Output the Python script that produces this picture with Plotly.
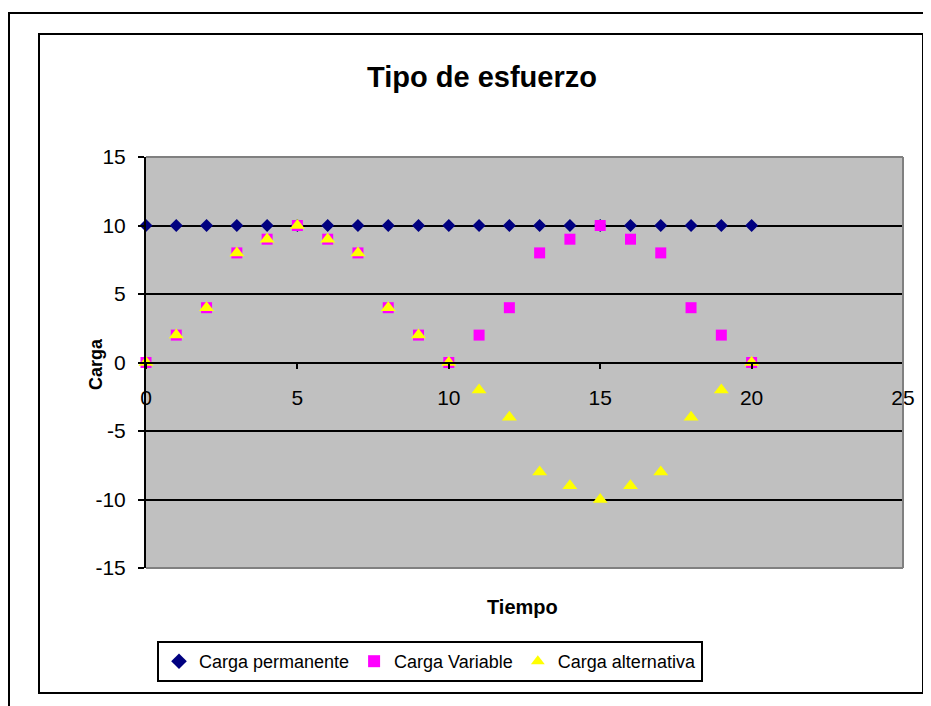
import plotly.graph_objects as go

# ---- data ----
tiempo = list(range(0, 21))
carga_permanente = [10] * 21
carga_variable = [0, 2, 4, 8, 9, 10, 9, 8, 4, 2, 0, 2, 4, 8, 9, 10, 9, 8, 4, 2, 0]
carga_alternativa = [0, 2, 4, 8, 9, 10, 9, 8, 4, 2, 0, -2, -4, -8, -9, -10, -9, -8, -4, -2, 0]
x_ticks = [0, 5, 10, 15, 20, 25]
y_ticks = [-15, -10, -5, 0, 5, 10, 15]

# ---- layout geometry (page pixels; the page body adds an 8px margin) ----
OFF = 8
W, H = 931 - OFF, 706 - OFF
PLOT_L, PLOT_R, PLOT_T, PLOT_B = 146, 903, 157, 568
L, T = PLOT_L - OFF, PLOT_T - OFF
R, B = W - (PLOT_R - OFF), H - (PLOT_B - OFF)


def px(x):
    return (x - PLOT_L) / (PLOT_R - PLOT_L)


def py(y):
    return (PLOT_B - y) / (PLOT_B - PLOT_T)


FONT = "Arial, Liberation Sans, sans-serif"

fig = go.Figure()
fig.add_trace(go.Scatter(x=tiempo, y=carga_permanente, mode="markers", name="Carga permanente",
                         cliponaxis=False,
                         marker=dict(symbol="diamond", size=10, color="#000080", line=dict(width=0))))
fig.add_trace(go.Scatter(x=tiempo, y=carga_variable, mode="markers", name="Carga Variable",
                         cliponaxis=False,
                         marker=dict(symbol="square", size=11, color="#FF00FF", line=dict(width=0))))
fig.add_trace(go.Scatter(x=tiempo, y=carga_alternativa, mode="markers", name="Carga alternativa",
                         cliponaxis=False,
                         marker=dict(symbol="triangle-up", size=13, color="#FFFF00", line=dict(width=0))))

shapes = [
    # outer frame
    dict(type="rect", xref="paper", yref="paper", x0=px(9), x1=px(945), y0=py(720), y1=py(13),
         line=dict(color="black", width=2), layer="above"),
    # chart area frame
    dict(type="rect", xref="paper", yref="paper", x0=px(39), x1=px(923), y0=py(693), y1=py(34),
         line=dict(color="black", width=2), layer="above"),
    # plot area grey border (top, right, bottom)
    dict(type="line", xref="paper", yref="paper", x0=0, x1=1, y0=1, y1=1,
         line=dict(color="#808080", width=2), layer="above"),
    dict(type="line", xref="paper", yref="paper", x0=1, x1=1, y0=0, y1=1,
         line=dict(color="#808080", width=2), layer="above"),
    dict(type="line", xref="paper", yref="paper", x0=0, x1=1, y0=0, y1=0,
         line=dict(color="#808080", width=2), layer="above"),
]

fig.update_layout(
    width=W, height=H,
    margin=dict(l=L, r=R, t=T, b=B, pad=0),
    paper_bgcolor="white",
    plot_bgcolor="#C0C0C0",
    font=dict(family=FONT, color="black", size=19),
    title=dict(text="<b>Tipo de esfuerzo</b>", font=dict(family=FONT, size=29, color="black"),
               xref="paper", x=px(482), xanchor="center",
               yref="container", y=1 - (77 - OFF) / H, yanchor="middle"),
    xaxis=dict(range=[0, 25], tickvals=x_ticks, ticktext=[str(v) for v in x_ticks],
               anchor="free", position=0.5, showgrid=False, zeroline=False,
               showline=True, linecolor="black", linewidth=2,
               ticks="outside", ticklen=5, tickwidth=2, tickcolor="black",
               ticklabelstandoff=11, tickfont=dict(size=21)),
    yaxis=dict(range=[-15, 15], tickvals=y_ticks, ticktext=[str(v) for v in y_ticks],
               showgrid=True, gridcolor="black", gridwidth=2, zeroline=False,
               showline=True, linecolor="black", linewidth=2,
               ticks="outside", ticklen=6, tickwidth=2, tickcolor="black",
               ticklabelstandoff=8, tickfont=dict(size=21)),
    legend=dict(orientation="h", x=px(430), xanchor="center", y=py(641), yanchor="top",
                bordercolor="black", borderwidth=2, bgcolor="white",
                font=dict(size=18), itemsizing="constant", tracegroupgap=0),
    shapes=shapes,
    annotations=[
        dict(text="<b>Tiempo</b>", xref="paper", yref="paper", x=px(522), y=py(607),
             xanchor="center", yanchor="middle", showarrow=False,
             font=dict(family=FONT, size=20, color="black")),
        dict(text="<b>Carga</b>", xref="paper", yref="paper", x=px(96), y=py(364),
             xanchor="center", yanchor="middle", showarrow=False, textangle=-90,
             font=dict(family=FONT, size=18, color="black")),
    ],
    showlegend=True,
)

fig.write_html("out.html")
